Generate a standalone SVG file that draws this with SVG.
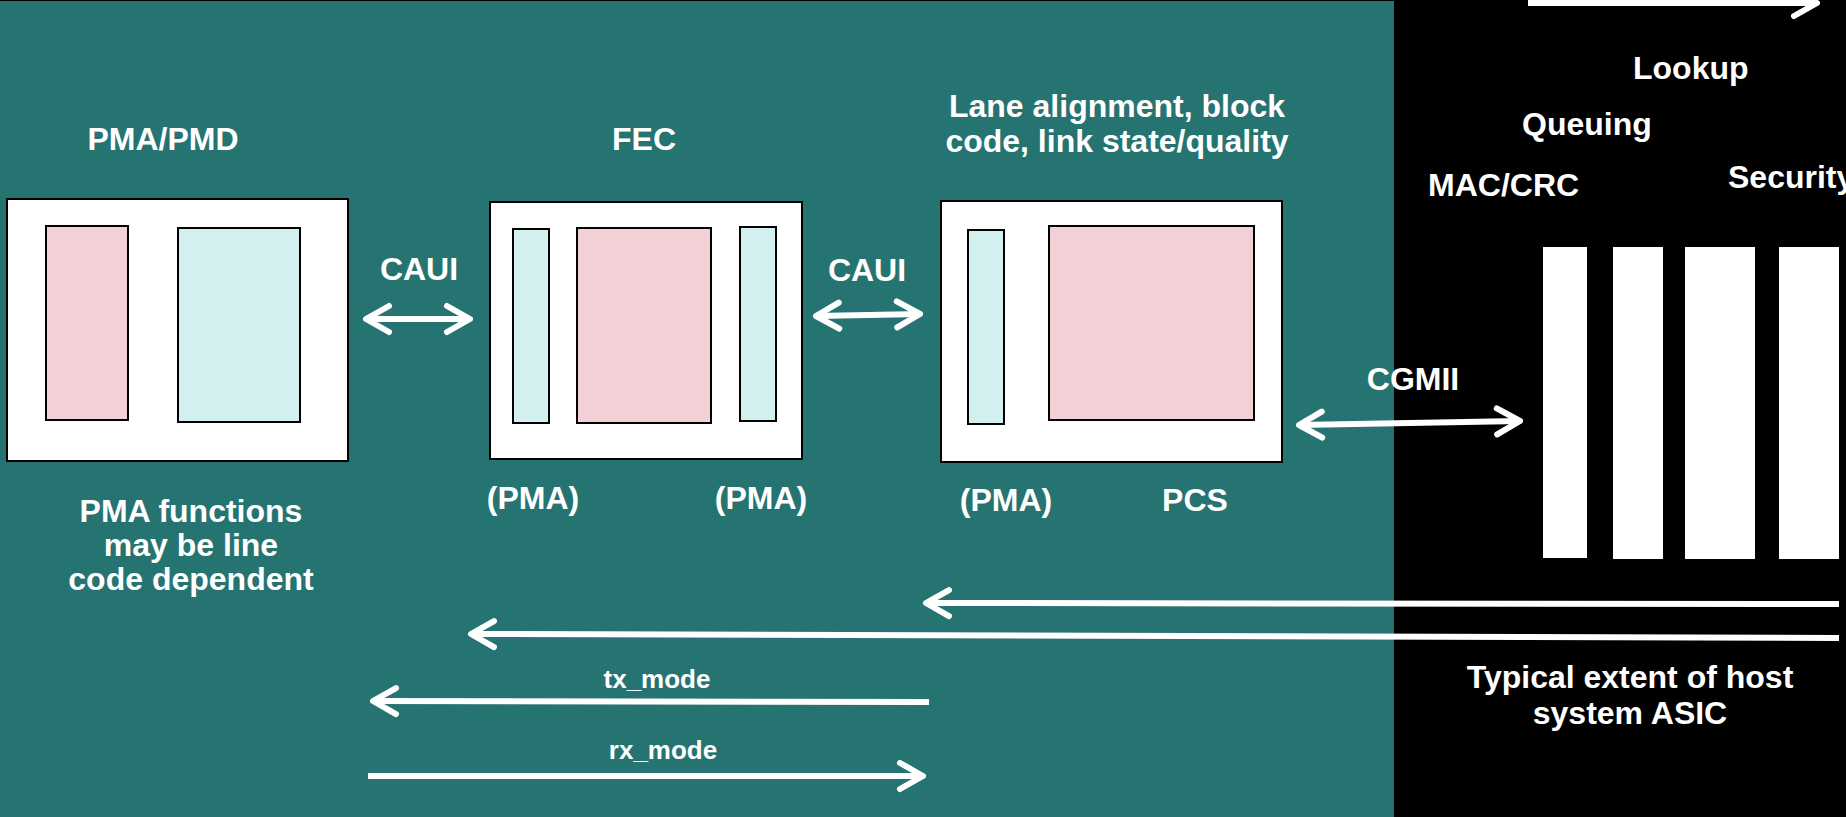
<svg xmlns="http://www.w3.org/2000/svg" width="1846" height="817" viewBox="0 0 1846 817">
<style>
.box{fill:#ffffff;stroke:#000000;stroke-width:2}
.pink{fill:#f3d0d5;stroke:#000000;stroke-width:2}
.cyan{fill:#d2f0ef;stroke:#000000;stroke-width:2}
.bar{fill:#ffffff}
.lbl{font-family:"Liberation Sans",Arial,sans-serif;font-weight:bold;font-size:32px;fill:#ffffff}
.mid{text-anchor:middle}
.small{font-size:26px}
.conn{fill:none;stroke:#ffffff;stroke-width:6}
</style>
<defs>
<marker id="chev" viewBox="-30 -20 40 40" refX="0" refY="0" markerWidth="40" markerHeight="40" markerUnits="userSpaceOnUse" orient="auto-start-reverse" overflow="visible">
<path d="M-23,-13 L0,0 L-23,13" fill="none" stroke="#ffffff" stroke-width="6" stroke-linecap="round" stroke-linejoin="round"/>
</marker>
</defs>
<rect x="0" y="0" width="1846" height="817" fill="#000000"/>
<rect x="0" y="1" width="1394" height="816" fill="#267472"/>

<g id="pma-pmd">
<text class="lbl mid" x="163" y="150">PMA/PMD</text>
<rect class="box" x="7" y="199" width="341" height="262"/>
<rect class="pink" x="46" y="226" width="82" height="194"/>
<rect class="cyan" x="178" y="228" width="122" height="194"/>
<text class="lbl mid" x="191" y="522">PMA functions</text>
<text class="lbl mid" x="191" y="556">may be line</text>
<text class="lbl mid" x="191" y="590">code dependent</text>
</g>

<g id="fec">
<text class="lbl mid" x="644" y="150">FEC</text>
<rect class="box" x="490" y="202" width="312" height="257"/>
<rect class="cyan" x="513" y="229" width="36" height="194"/>
<rect class="pink" x="577" y="228" width="134" height="195"/>
<rect class="cyan" x="740" y="227" width="36" height="194"/>
<text class="lbl mid" x="533" y="509">(PMA)</text>
<text class="lbl mid" x="761" y="509">(PMA)</text>
</g>

<g id="pcs">
<text class="lbl mid" x="1117" y="117">Lane alignment, block</text>
<text class="lbl mid" x="1117" y="152">code, link state/quality</text>
<rect class="box" x="941" y="201" width="341" height="261"/>
<rect class="cyan" x="968" y="230" width="36" height="194"/>
<rect class="pink" x="1049" y="226" width="205" height="194"/>
<text class="lbl mid" x="1006" y="511">(PMA)</text>
<text class="lbl mid" x="1195" y="511">PCS</text>
</g>

<g id="host-asic">
<rect class="bar" x="1543" y="247" width="44" height="311"/>
<rect class="bar" x="1613" y="247" width="50" height="312"/>
<rect class="bar" x="1685" y="247" width="70" height="312"/>
<rect class="bar" x="1779" y="247" width="60" height="312"/>
<text class="lbl" x="1633" y="79">Lookup</text>
<text class="lbl" x="1522" y="135">Queuing</text>
<text class="lbl" x="1428" y="196">MAC/CRC</text>
<text class="lbl" x="1728" y="188">Security</text>
<text class="lbl mid" x="1630" y="688">Typical extent of host</text>
<text class="lbl mid" x="1630" y="724">system ASIC</text>
</g>

<g id="connectors">
<path class="conn" d="M366,319 L470,319" marker-start="url(#chev)" marker-end="url(#chev)"/>
<text class="lbl mid" x="419" y="280">CAUI</text>
<path class="conn" d="M816,316 L920,314" marker-start="url(#chev)" marker-end="url(#chev)"/>
<text class="lbl mid" x="867" y="281">CAUI</text>
<path class="conn" d="M1299,425 L1520,421" marker-start="url(#chev)" marker-end="url(#chev)"/>
<text class="lbl mid" x="1413" y="390">CGMII</text>
<path class="conn" d="M1528,3 L1817,3" marker-end="url(#chev)"/>
<path class="conn" d="M1839,604 L926,603" marker-end="url(#chev)"/>
<path class="conn" d="M1839,638 L471,634" marker-end="url(#chev)"/>
<path class="conn" d="M929,702 L373,701" marker-end="url(#chev)"/>
<text class="lbl mid small" x="657" y="688">tx_mode</text>
<path class="conn" d="M368,776 L923,776" marker-end="url(#chev)"/>
<text class="lbl mid small" x="663" y="759">rx_mode</text>
</g>
</svg>
